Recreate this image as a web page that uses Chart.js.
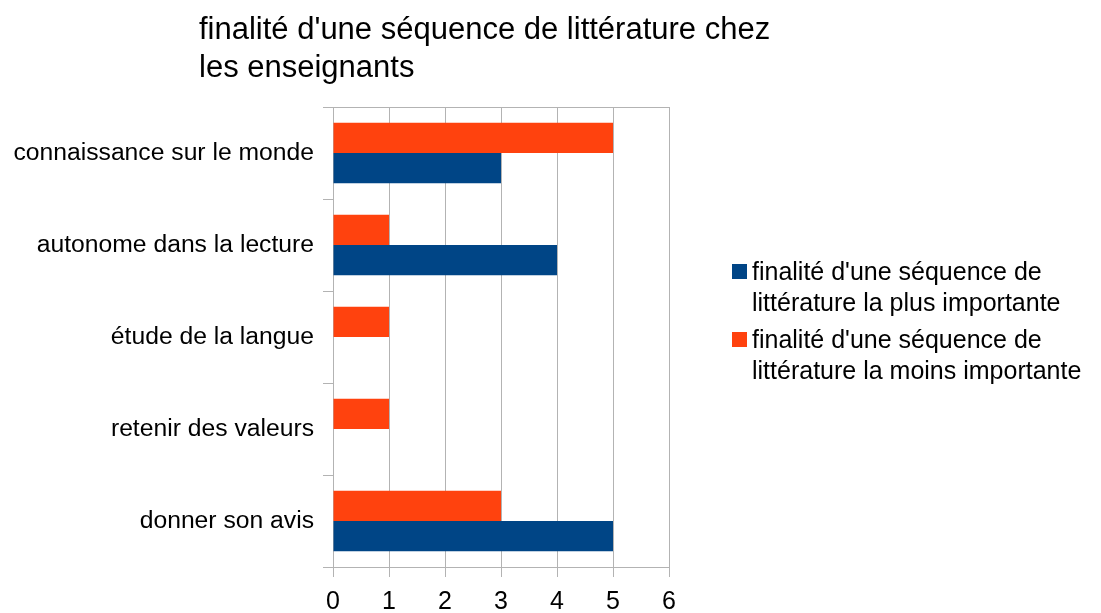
<!DOCTYPE html>
<html>
<head>
<meta charset="utf-8">
<script src="https://cdn.jsdelivr.net/npm/chart.js@4.4.1/dist/chart.umd.min.js"></script>
<style>
html, body { margin: 0; padding: 0; background: #fff; }
#myChart { display: block; }
</style>
</head>
<body>
<canvas id="myChart" width="1101" height="613"></canvas>
<script>
const categories = ['connaissance sur le monde', 'autonome dans la lecture', 'étude de la langue', 'retenir des valeurs', 'donner son avis']
const plus_importante = [3, 4, 0, 0, 5]
const moins_importante = [5, 1, 1, 1, 3]
const series_names = [
    ["finalité d'une séquence de", 'littérature la plus importante'],
    ["finalité d'une séquence de", 'littérature la moins importante']
]
const series_colors = ['#004586', '#ff420e']
const title_lines = ["finalité d'une séquence de littérature chez", 'les enseignants']
const x_min = 0
const x_max = 6

const FONT = '"Liberation Sans", Arial, sans-serif'
const GRID = '#b3b3b3'

// title + legend drawn by hand (the legend labels wrap on two lines)
const decorations = {
    id: 'decorations',
    afterDraw(chart) {
        const c = chart.ctx
        c.save()
        c.fillStyle = '#000'
        c.textBaseline = 'middle'
        c.textAlign = 'left'
        c.font = '31px ' + FONT
        title_lines.forEach((t, i) => c.fillText(t, 199, 30 + i * 38))

        c.font = '25px ' + FONT
        const tops = [273, 341]
        series_names.forEach((lines, i) => {
            c.fillStyle = series_colors[i]
            c.fillRect(732, tops[i] - 9, 15, 15)
            c.fillStyle = '#000'
            lines.forEach((l, j) => c.fillText(l, 752, tops[i] + j * 31))
        })
        c.restore()
    }
}

const ctx = document.getElementById('myChart')
const myChart = new Chart(ctx, {
    type: 'bar',
    data: {
        labels: categories,
        datasets: [
            {
                label: series_names[1].join(' '),
                data: moins_importante,
                backgroundColor: series_colors[1],
            },
            {
                label: series_names[0].join(' '),
                data: plus_importante,
                backgroundColor: series_colors[0],
            }
        ]
    },
    options: {
        indexAxis: 'y',
        responsive: false,
        animation: false,
        devicePixelRatio: 1,
        categoryPercentage: 0.66,
        barPercentage: 1,
        layout: {
            padding: {top: 107, right: 432, left: 0, bottom: 0}
        },
        plugins: {
            legend: {display: false},
            title: {display: false},
            tooltip: {enabled: false}
        },
        scales: {
            x: {
                min: x_min,
                max: x_max,
                ticks: {
                    stepSize: 1,
                    color: '#000',
                    padding: 10,
                    font: {family: FONT, size: 25}
                },
                grid: {color: GRID, tickLength: 10, lineWidth: 1},
                border: {display: true, color: GRID},
                afterFit: s => { s.height = 46 }
            },
            y: {
                ticks: {
                    color: '#000',
                    padding: 9,
                    font: {family: FONT, size: 24.7}
                },
                grid: {
                    offset: true,
                    tickLength: 10,
                    tickColor: GRID,
                    color: c => (c.index === 0 || c.index === undefined) ? GRID : 'rgba(0,0,0,0)'
                },
                border: {display: true, color: GRID},
                afterFit: s => { s.width = 333 }
            }
        }
    },
    plugins: [decorations]
});
</script>
</body>
</html>
